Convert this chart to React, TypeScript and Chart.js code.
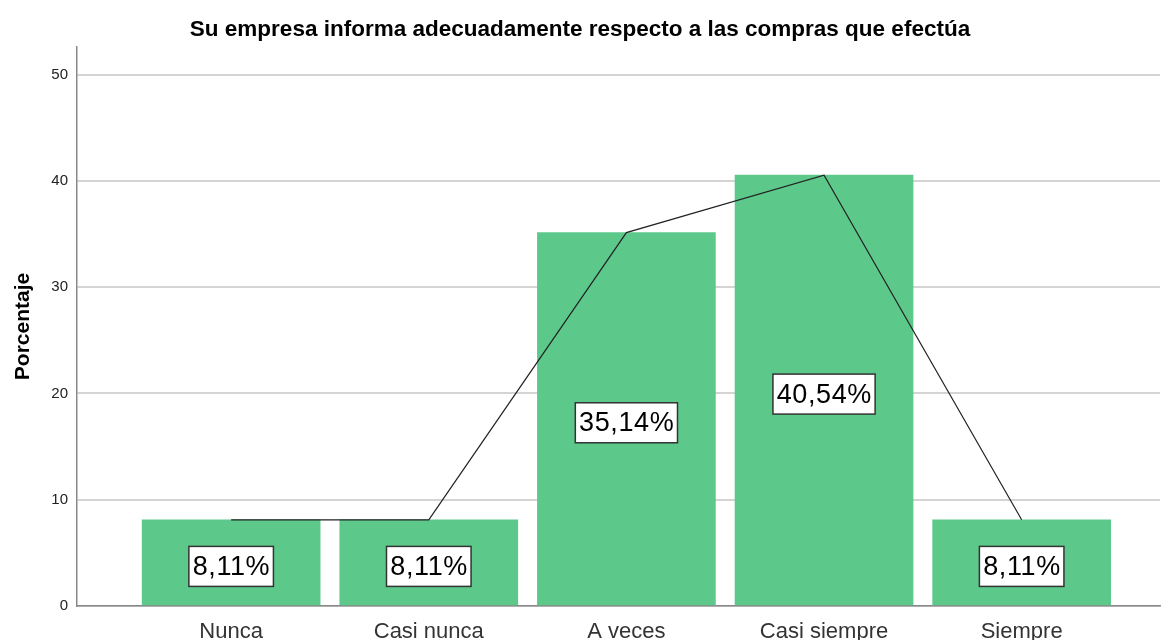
import React, { useEffect, useRef } from "react";
import { Chart, registerables } from "chart.js";

Chart.register(...registerables);

const categories = ["Nunca", "Casi nunca", "A veces", "Casi siempre", "Siempre"];
const percentages = [8.11, 8.11, 35.14, 40.54, 8.11];
const valueLabels = ["8,11%", "8,11%", "35,14%", "40,54%", "8,11%"];
const yTicks = [0, 10, 20, 30, 40, 50];

const FONT = "'Liberation Sans', Arial, sans-serif";

const labelPlugin = {
  id: "valueBoxes",
  afterDraw(chart: any) {
    const meta = chart.getDatasetMeta(1);
    const ctx = chart.ctx;
    ctx.save();
    ctx.font = `27px ${FONT}`;
    try { (ctx as any).letterSpacing = "0.6px"; } catch (e) {}
    ctx.textAlign = "center";
    ctx.textBaseline = "middle";
    meta.data.forEach((el: any, i: number) => {
      const text = valueLabels[i];
      const cx = el.x;
      const cy = (el.y + el.base) / 2 + 4;
      const w = ctx.measureText(text).width + 7;
      const h = 40;
      ctx.fillStyle = "#ffffff";
      ctx.fillRect(cx - w / 2, cy - h / 2, w, h);
      ctx.strokeStyle = "#333333";
      ctx.lineWidth = 1.5;
      ctx.strokeRect(cx - w / 2, cy - h / 2, w, h);
      ctx.fillStyle = "#000000";
      ctx.fillText(text, cx + 0.3, cy + 1);
    });
    ctx.restore();
  },
};

export default function App() {
  const ref = useRef<HTMLCanvasElement | null>(null);
  useEffect(() => {
    if (!ref.current) return;
    const points = percentages.map((v, i) => ({ x: i, y: v }));
    const chart = new Chart(ref.current, {
      type: "bar",
      data: {
        datasets: [
          {
            type: "line",
            data: points,
            borderColor: "#222222",
            borderWidth: 1.2,
            pointRadius: 0,
            tension: 0,
            fill: false,
            order: 0,
          } as any,
          {
            type: "bar",
            data: points,
            backgroundColor: "#5cc98b",
            borderWidth: 0,
            barThickness: 178,
            order: 1,
          } as any,
        ],
      },
      options: {
        animation: false,
        responsive: false,
        maintainAspectRatio: false,
        layout: { padding: { top: 0, right: 6, left: 0, bottom: 0 } },
        plugins: {
          legend: { display: false },
          tooltip: { enabled: false },
          title: {
            display: true,
            text: "Su empresa informa adecuadamente respecto a las compras que efectúa",
            color: "#000000",
            font: { family: FONT, size: 22.5, weight: "bold" },
            padding: { top: 16, bottom: 4 },
          },
        },
        scales: {
          x: {
            type: "linear",
            min: -0.78,
            max: 4.7,
            offset: false,
            grid: { display: false },
            border: { display: true, color: "#888888", width: 1.5 },
            afterBuildTicks: (scale: any) => {
              scale.ticks = categories.map((_, i) => ({ value: i }));
            },
            afterFit: (scale: any) => {
              scale.height = 34;
            },
            ticks: {
              autoSkip: false,
              maxRotation: 0,
              padding: 5,
              color: "#333333",
              font: { family: FONT, size: 22 },
              callback: (v: any) => categories[Math.round(Number(v))] ?? "",
            },
          },
          y: {
            min: 0,
            max: 52.6,
            afterBuildTicks: (scale: any) => {
              scale.ticks = yTicks.map((v) => ({ value: v }));
            },
            afterFit: (scale: any) => {
              scale.width = 77;
            },
            grid: { color: "#d4d4d4", lineWidth: 2, drawTicks: false },
            border: { display: true, color: "#888888", width: 1.5 },
            ticks: {
              padding: 9,
              color: "#222222",
              font: { family: FONT, size: 15 },
            },
            title: {
              display: true,
              text: "Porcentaje",
              color: "#000000",
              font: { family: FONT, size: 21, weight: "bold" },
              padding: { top: 11, bottom: 0 },
            },
          },
        },
      },
      plugins: [labelPlugin],
    });
    return () => chart.destroy();
  }, []);
  return (
    <div style={{ position: "fixed", left: 0, top: 0, width: 1166, height: 640, background: "#fff" }}>
      <canvas ref={ref} width={1166} height={640} style={{ width: 1166, height: 640 }} />
    </div>
  );
}
